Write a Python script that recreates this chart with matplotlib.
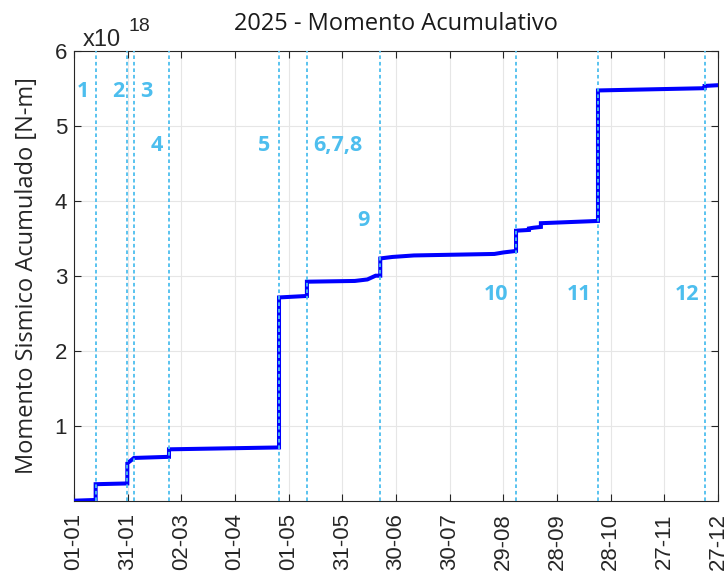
import matplotlib
matplotlib.use("Agg")
import matplotlib.pyplot as plt
import numpy as np

# Cumulative seismic moment curve (days since 01-01-2025, moment x1e18 N-m)
curve_days = [0, 12.1, 12.1, 29.8, 29.8, 31.5, 33.5, 53.1, 53.1, 114.6, 114.6,
              130.2, 130.2, 157, 164, 168.6, 171.2, 171.2, 178, 190, 235, 240,
              247.1, 247.1, 254.3, 254.3, 257, 261, 261, 292.9, 292.9, 352.5,
              352.5, 360]
curve_moment = [0.0, 0.01, 0.22, 0.23, 0.50, 0.53, 0.57, 0.585, 0.685, 0.71, 2.71,
                2.73, 2.92, 2.93, 2.95, 3.00, 3.00, 3.23, 3.25, 3.27, 3.29, 3.31,
                3.33, 3.60, 3.61, 3.63, 3.64, 3.65, 3.70, 3.73, 5.47, 5.50,
                5.53, 5.54]

# Marked events
event_days = [12.1, 29.8, 33.5, 53.1, 114.6, 130.2, 171.2, 247.1, 292.9, 352.5]
event_labels = ["1", "2", "3", "4", "5", "6,7,8", "9", "10", "11", "12"]
label_days = [5.0, 24.5, 40.5, 46.5, 106.5, 147.5, 162.0, 236.0, 282.5, 342.5]
label_values = [5.45, 5.45, 5.45, 4.73, 4.73, 4.73, 3.74, 2.75, 2.75, 2.75]

tick_days = list(range(0, 361, 30))
tick_labels = ["01-01", "31-01", "02-03", "01-04", "01-05", "31-05", "30-06",
               "30-07", "29-08", "28-09", "28-10", "27-11", "27-12"]
y_ticks = [1, 2, 3, 4, 5, 6]

cyan = (0.301, 0.745, 0.933)
dark = (0.15, 0.15, 0.15)

fig = plt.figure(figsize=(7.25, 5.77), dpi=100)
ax = fig.add_axes([74/725, 1 - 500.7/577, (718-74)/725, (500.7-50.7)/577])

ax.plot(curve_days, curve_moment, color=(0, 0, 1), lw=2.9, zorder=3,
        solid_joinstyle='miter')
for d in event_days:
    ax.axvline(d, color=cyan, ls=(0, (2, 1.6)), lw=1.3, zorder=4)
for lab, xd, yv in zip(event_labels, label_days, label_values):
    ax.text(xd, yv, lab, color=cyan, fontsize=15.5, fontweight='bold',
            ha='center', va='center', family='Open Sans', zorder=5)

ax.set_xlim(0, 360)
ax.set_ylim(0, 6)
ax.set_xticks(tick_days)
ax.set_xticklabels(tick_labels, rotation=90, fontsize=16, family='Liberation Sans')
ax.set_yticks(y_ticks)
ax.set_yticklabels([str(v) for v in y_ticks], fontsize=16, family='Liberation Sans')
ax.grid(True, color=(0.9, 0.9, 0.9), lw=0.8)
ax.set_axisbelow(True)
ax.tick_params(direction='in', top=True, right=True, length=5, width=0.8,
               color=dark, labelcolor=dark)
ax.tick_params(axis='x', pad=9)
ax.tick_params(axis='y', pad=5)
for s in ax.spines.values():
    s.set_color(dark)
    s.set_linewidth(0.8)

ax.set_title("2025 - Momento Acumulativo", fontsize=17, color=(0.1, 0.1, 0.1),
             pad=15, family='Open Sans')
ax.set_ylabel("Momento Sismico Acumulado [N-m]", fontsize=17, color=dark,
              family='Open Sans', labelpad=11)
ax.annotate("x10", xy=(0, 1), xycoords='axes fraction', xytext=(6, 3.5),
            textcoords='offset points', fontsize=17, color=dark,
            family='Liberation Sans', ha='left', va='baseline')
ax.annotate("18", xy=(0, 1), xycoords='axes fraction', xytext=(39, 14),
            textcoords='offset points', fontsize=14, color=dark,
            family='Liberation Sans', ha='left', va='baseline')

fig.savefig("out.png", dpi=100)
